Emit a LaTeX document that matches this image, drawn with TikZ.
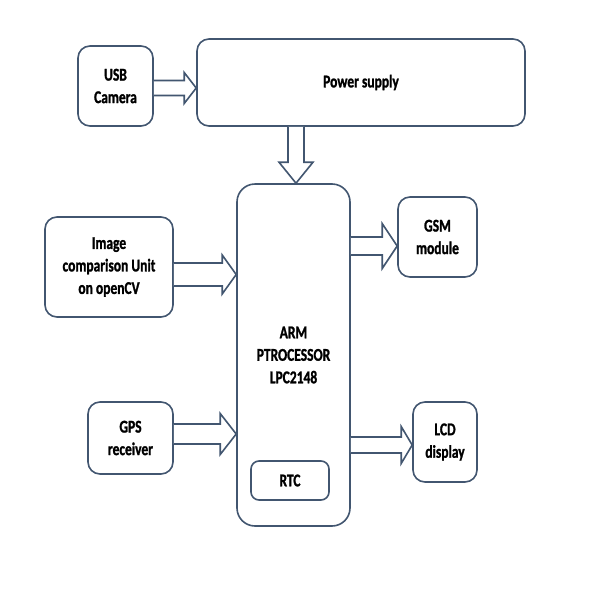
\documentclass[tikz,border=0pt]{standalone}
\usepackage{fontspec}
\setmainfont[FakeStretch=0.75, BoldFeatures={FakeBold=1.2}]{Carlito}
\usetikzlibrary{calc}
\definecolor{edge}{RGB}{66,86,112}
\tikzset{
  blk/.style={draw=edge, line width=1.6pt, fill=white, rounded corners=12pt, align=center,
    inner sep=0pt, font=\fontsize{18}{22.5}\selectfont\bfseries},
  barrow/.style={draw=edge, line width=1.6pt, fill=white, line join=miter},
}
% horizontal block arrow: #1 from node, #2 to node, #3 y, #4 shaft half, #5 head half, #6 head length
\newcommand\harrow[6]{%
  \coordinate (hs) at (#1.east |- 0,#3);
  \coordinate (ht) at (#2.west |- 0,#3);
  \draw[barrow] ($(hs)+(0,-#4)$) -- ($(ht)+(-#6,-#4)$) -- ($(ht)+(-#6,-#5)$) -- (ht)
     -- ($(ht)+(-#6,#5)$) -- ($(ht)+(-#6,#4)$) -- ($(hs)+(0,#4)$);
}
\begin{document}
\begin{tikzpicture}[x=1pt,y=-1pt]
\useasboundingbox (0,0) rectangle (590,592);
\fill[white] (0,0) rectangle (590,592);

\node[blk, minimum width=75pt, minimum height=80pt] (usb) at (115.5,86) {USB\\Camera};
\node[blk, minimum width=328pt, minimum height=87pt] (pow) at (361,82.5) {\raisebox{-3pt}{Power supply}};
\node[blk, minimum width=113pt, minimum height=342pt, rounded corners=18pt] (arm) at (293.5,355) {ARM\\PTROCESSOR\\LPC2148};
\node[blk, minimum width=128pt, minimum height=100pt] (img) at (109,267) {Image\\comparison Unit\\on openCV};
\node[blk, minimum width=85pt, minimum height=72pt] (gps) at (130.5,438) {GPS\\receiver};
\node[blk, minimum width=78pt, minimum height=39pt, rounded corners=8pt] (rtc) at (290,480.5) {RTC};
\node[blk, minimum width=79pt, minimum height=80pt] (gsm) at (437.5,237) {GSM\\module};
\node[blk, minimum width=64pt, minimum height=80pt] (lcd) at (445,442) {LCD\\display};

\harrow{usb}{pow}{88}{7.5}{15.5}{12}
\harrow{img}{arm}{274.5}{11.5}{19.5}{14}
\harrow{gps}{arm}{434}{10}{20.5}{16}
\harrow{arm}{gsm}{246}{9}{22.5}{15}
\harrow{arm}{lcd}{445}{8}{18.5}{11}

% vertical block arrow from power supply to ARM
\coordinate (vs) at (pow.south -| 296,0);
\coordinate (vt) at (arm.north -| 296,0);
\draw[barrow] ($(vs)+(-8,0)$) -- ($(vt)+(-8,-21)$) -- ($(vt)+(-17,-21)$) -- (vt)
   -- ($(vt)+(17,-21)$) -- ($(vt)+(8,-21)$) -- ($(vs)+(8,0)$);
\end{tikzpicture}
\end{document}
